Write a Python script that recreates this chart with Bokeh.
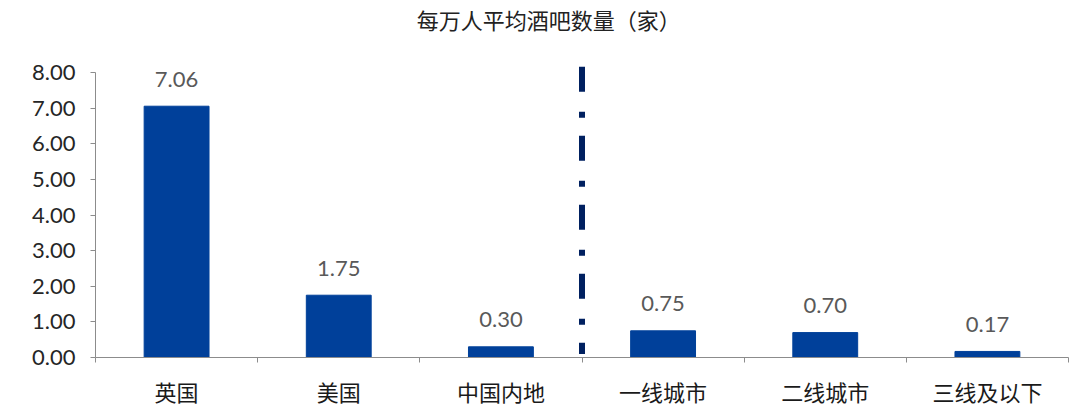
from bokeh.plotting import figure
from bokeh.models import (Range1d, LinearAxis, FixedTicker,
                          NumeralTickFormatter)
from bokeh.embed import file_html
from bokeh.resources import INLINE
from bokeh.core.properties import value

# ---- data ----
categories = ["英国", "美国", "中国内地", "一线城市", "二线城市", "三线及以下"]
bars_per_10k = [7.06, 1.75, 0.30, 0.75, 0.70, 0.17]
y_ticks = [0, 1, 2, 3, 4, 5, 6, 7, 8]
title_text = "每万人平均酒吧数量（家）"
divider_before = "一线城市"

BAR_COLOR = "#00409A"
DIVIDER_COLOR = "#002060"
AXIS_COLOR = "#8C8C8C"
CJK = "Noto Sans CJK SC"
NUM = "Lato"

n = len(categories)
# category slot centres on a 0..n numeric scale
slot = {c: i + 0.5 for i, c in enumerate(categories)}
xs = [slot[c] for c in categories]

Y_TOP = 10.03  # frame reaches the top of the canvas; title lives inside it

p = figure(
    width=1076, height=409,
    x_range=Range1d(0, n),
    y_range=Range1d(0, Y_TOP),
    output_backend="svg", toolbar_location=None,
    x_axis_location=None, y_axis_location=None,
    min_border_left=95, min_border_right=8, min_border_top=0, min_border_bottom=52,
)
p.outline_line_color = None
p.xgrid.visible = False
p.ygrid.visible = False
p.background_fill_color = "white"
p.border_fill_color = "white"

# bars
p.vbar(x=xs, top=bars_per_10k, width=0.4, bottom=0,
       fill_color=BAR_COLOR, line_color=BAR_COLOR)

# value labels
p.text(x=xs, y=bars_per_10k, text=[f"{v:.2f}" for v in bars_per_10k],
       text_align="center", text_baseline="alphabetic", y_offset=-27,
       text_font=value(NUM), text_font_size="22px", text_color="#595959")

# dash-dot divider
div_x = slot[divider_before] - 0.5
p.segment(x0=[div_x], y0=[8.17], x1=[div_x], y1=[0.1],
          line_color=DIVIDER_COLOR, line_width=6, line_dash="25 20 6 18",
          line_cap="butt")

# title
p.text(x=[2.795], y=[9.5], text=[title_text], text_align="center",
       text_baseline="middle", text_font=value(CJK), text_font_size="22px",
       text_color="#222222")

# y axis
yax = LinearAxis(ticker=FixedTicker(ticks=y_ticks, minor_ticks=[]),
                 formatter=NumeralTickFormatter(format="0.00"))
yax.bounds = (0, 8)
yax.axis_line_color = AXIS_COLOR
yax.major_tick_line_color = AXIS_COLOR
yax.major_tick_out = 5
yax.major_tick_in = 0
yax.minor_tick_line_color = None
yax.major_label_standoff = 15
yax.major_label_text_font = NUM
yax.major_label_text_font_size = "22px"
yax.major_label_text_color = "#262626"
p.add_layout(yax, "left")

# x axis: labels at slot centres, ticks at slot boundaries
xax = LinearAxis(ticker=FixedTicker(ticks=xs, minor_ticks=list(range(n + 1))))
xax.major_label_overrides = {x: lab for x, lab in zip(xs, categories)}
xax.axis_line_color = AXIS_COLOR
xax.major_tick_line_color = None
xax.minor_tick_line_color = AXIS_COLOR
xax.minor_tick_out = 5
xax.minor_tick_in = 0
xax.major_label_standoff = 11
xax.major_label_text_font = CJK
xax.major_label_text_font_size = "22px"
xax.major_label_text_color = "#1A1A1A"
p.add_layout(xax, "below")

open("out.html", "w").write(file_html(p, INLINE))
